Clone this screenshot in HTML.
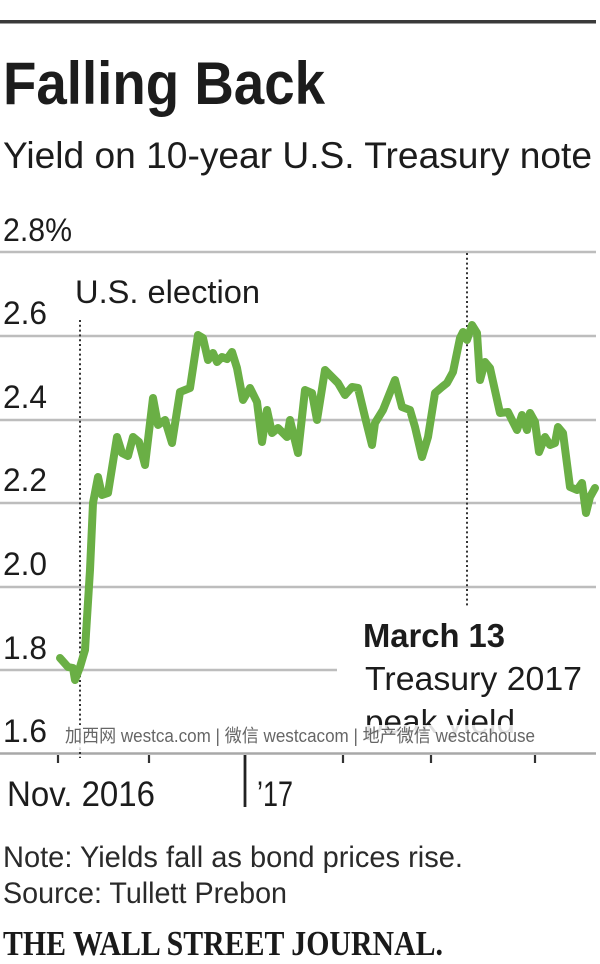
<!DOCTYPE html>
<html><head><meta charset="utf-8"><style>
html,body{margin:0;padding:0;background:#fff;}
svg{display:block;}
text{font-family:"Liberation Sans","Noto Sans CJK SC",sans-serif;fill:#1c1c1c;}
</style></head><body>
<svg width="600" height="964" viewBox="0 0 600 964" xmlns="http://www.w3.org/2000/svg">
<rect x="0" y="0" width="600" height="964" fill="#fff"/>
<!-- top rule -->
<rect x="0" y="20" width="596" height="3.5" fill="#3a3a3a"/>
<!-- title -->
<text x="3" y="104" font-size="60" font-weight="bold" textLength="322" lengthAdjust="spacingAndGlyphs" fill="#111">Falling Back</text>
<text x="3" y="168" font-size="37" textLength="589" lengthAdjust="spacingAndGlyphs">Yield on 10-year U.S. Treasury note</text>

<!-- gridlines -->
<g stroke="#bdbdbd" stroke-width="2.5">
<line x1="0" y1="252" x2="596" y2="252"/>
<line x1="0" y1="336" x2="596" y2="336"/>
<line x1="0" y1="420" x2="596" y2="420"/>
<line x1="0" y1="503" x2="596" y2="503"/>
<line x1="0" y1="587" x2="596" y2="587"/>
<line x1="0" y1="670" x2="337" y2="670"/>
</g>
<line x1="0" y1="753.5" x2="596" y2="753.5" stroke="#a8a8a8" stroke-width="2.5"/>

<!-- y labels -->
<g font-size="32">
<text x="3" y="241" textLength="69" lengthAdjust="spacingAndGlyphs">2.8%</text>
<text x="3" y="324" textLength="44" lengthAdjust="spacingAndGlyphs">2.6</text>
<text x="3" y="408" textLength="44" lengthAdjust="spacingAndGlyphs">2.4</text>
<text x="3" y="491" textLength="44" lengthAdjust="spacingAndGlyphs">2.2</text>
<text x="3" y="575" textLength="44" lengthAdjust="spacingAndGlyphs">2.0</text>
<text x="3" y="659" textLength="44" lengthAdjust="spacingAndGlyphs">1.8</text>
<text x="3" y="742" textLength="44" lengthAdjust="spacingAndGlyphs">1.6</text>
</g>

<!-- dotted annotation lines -->
<line x1="80" y1="320" x2="80" y2="758" stroke="#333" stroke-width="2" stroke-dasharray="2,2.8"/>
<line x1="467" y1="253" x2="467" y2="606" stroke="#333" stroke-width="2" stroke-dasharray="2,2.8"/>

<text x="75" y="303" font-size="32" textLength="185" lengthAdjust="spacingAndGlyphs">U.S. election</text>

<!-- series -->
<polyline fill="none" stroke="#6aaf45" stroke-width="8" stroke-linejoin="round" stroke-linecap="round" points="
60,658 68,667 73,668 75,680 80,667 85,650 90,570 93,503 98,477 102,495 108,493 117,437 122,453 128,456 133,437 139,442 145,465 153,398 158,425 165,420 172,443 180,392 190,388 198,335 203,338 208,360 213,353 217,362 222,357 227,359 232,352 237,368 243,400 250,388 257,402 262,442 267,410 272,433 278,428 287,437 290,420 298,453 305,390 312,393 317,420 325,370 332,377 338,383 345,395 352,387 358,388 365,417 372,445 375,423 383,410 395,380 402,407 410,410 415,427 422,457 428,437 435,393 442,387 447,383 453,372 460,338 463,332 467,340 472,325 477,333 480,380 485,362 490,368 500,413 508,412 517,430 522,415 527,430 530,413 535,422 539,452 545,437 550,445 555,443 558,427 563,433 570,487 577,490 582,483 586,513 590,497 595,488"/>

<!-- peak annotation -->
<text x="363" y="647" font-size="33" font-weight="bold" textLength="142" lengthAdjust="spacingAndGlyphs">March 13</text>
<text x="365" y="690" font-size="33" textLength="217" lengthAdjust="spacingAndGlyphs">Treasury 2017</text>
<text x="365" y="733" font-size="33" textLength="150" lengthAdjust="spacingAndGlyphs">peak yield</text>

<!-- watermark -->
<rect x="62" y="725" width="478" height="24" fill="#fff" fill-opacity="0.85"/>
<text x="65" y="742" font-size="18" textLength="470" lengthAdjust="spacingAndGlyphs" style="fill:#666">加西网 westca.com | 微信 westcacom | 地产微信 westcahouse</text>

<!-- x ticks -->
<g stroke="#333" stroke-width="2.2">
<line x1="58" y1="755" x2="58" y2="763"/>
<line x1="149" y1="755" x2="149" y2="763"/>
<line x1="343" y1="755" x2="343" y2="763"/>
<line x1="431" y1="755" x2="431" y2="763"/>
<line x1="535" y1="755" x2="535" y2="763"/>
</g>
<line x1="245" y1="755" x2="245" y2="807" stroke="#222" stroke-width="2.8"/>
<text x="7" y="806" font-size="35" textLength="148" lengthAdjust="spacingAndGlyphs">Nov. 2016</text>
<text x="257" y="806" font-size="35" textLength="36" lengthAdjust="spacingAndGlyphs">’17</text>

<!-- footer -->
<text x="3" y="867" font-size="30" textLength="460" lengthAdjust="spacingAndGlyphs" style="fill:#2a2a2a">Note: Yields fall as bond prices rise.</text>
<text x="3" y="903" font-size="30" textLength="284" lengthAdjust="spacingAndGlyphs" style="fill:#2a2a2a">Source: Tullett Prebon</text>
<text x="3" y="955" font-size="35" font-weight="bold" textLength="440" lengthAdjust="spacingAndGlyphs" style="font-family:'Liberation Serif',serif;fill:#1a1a1a">THE WALL STREET JOURNAL.</text>
</svg>
</body></html>
